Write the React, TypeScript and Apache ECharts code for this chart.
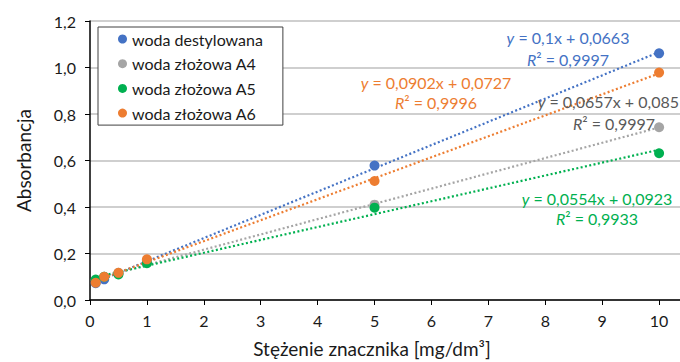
import React, { useEffect, useRef } from "react";
import * as echarts from "echarts";

// Tracer concentration [mg/dm3] and measured absorbance per water sample
const concentrations = [0.1, 0.25, 0.5, 1, 5, 10];
const seriesNames = ["woda destylowana", "woda złożowa A4", "woda złożowa A5", "woda złożowa A6"];
const distilled = [0.072, 0.089, 0.115, 0.168, 0.578, 1.061];
const waterA4 = [0.085, 0.1, 0.117, 0.16, 0.41, 0.743];
const waterA5 = [0.088, 0.1, 0.11, 0.158, 0.397, 0.631];
const waterA6 = [0.074, 0.1, 0.117, 0.175, 0.512, 0.978];

// Linear trend lines (slope, intercept, R²) in the same order as the series
const trendSlopes = [0.1, 0.0657, 0.0554, 0.0902];
const trendIntercepts = [0.0663, 0.085, 0.0923, 0.0727];
const trendR2 = ["0,9997", "0,9997", "0,9933", "0,9996"];

const yTicks = [0, 0.2, 0.4, 0.6, 0.8, 1.0, 1.2];

const COLORS = ["#4472C4", "#A5A5A5", "#00B050", "#ED7D31"];
const LABEL_COLORS = ["#4472C4", "#595959", "#00B050", "#ED7D31"];
const FONT = "Lato, 'Open Sans', sans-serif";

// Equation label placement (anchor of each two-line block, in pixels)
const LABEL_POS = [
  { x: 568, y1: 37, y2: 59, align: "center" },
  { x: 679, y1: 101, y2: 123, align: "right", x2: 614 },
  { x: 597, y1: 198, y2: 218, align: "center" },
  { x: 436, y1: 82, y2: 102, align: "center" },
];

const comma = (v: number) => String(v).replace(".", ",");

export default function App() {
  const ref = useRef<HTMLDivElement>(null);

  useEffect(() => {
    if (!ref.current) return;
    const chart = echarts.init(ref.current, undefined, { renderer: "svg" });
    const values = [distilled, waterA4, waterA5, waterA6];
    const xFirst = concentrations[0];
    const xLast = concentrations[concentrations.length - 1];

    const scatter = values.map((vals, i) => ({
      name: seriesNames[i],
      type: "scatter",
      data: concentrations.map((c, j) => [c, vals[j]]),
      symbol: "circle",
      symbolSize: 10,
      itemStyle: { color: COLORS[i], opacity: 1 },
      z: 3,
    }));

    const trends = trendSlopes.map((a, i) => ({
      name: "trend " + i,
      type: "line",
      data: [
        [xFirst, a * xFirst + trendIntercepts[i]],
        [xLast, a * xLast + trendIntercepts[i]],
      ],
      symbol: "none",
      lineStyle: { color: COLORS[i], width: 2.2, type: [2, 2.4] },
      z: 2,
      silent: true,
    }));

    const labelGraphics: any[] = [];
    trendSlopes.forEach((a, i) => {
      const p = LABEL_POS[i];
      const rich = {
        i: { fontStyle: "italic", fontFamily: FONT, fontSize: 16, fill: LABEL_COLORS[i] },
      };
      labelGraphics.push({
        type: "text",
        x: p.x,
        y: p.y1,
        style: {
          text: `{i|y} = ${comma(a)}x + ${comma(trendIntercepts[i])}`,
          rich,
          fontFamily: FONT,
          fontSize: 16,
          fill: LABEL_COLORS[i],
          textAlign: p.align,
          textVerticalAlign: "middle",
        },
        z: 10,
      });
      labelGraphics.push({
        type: "text",
        x: p.x2 ?? p.x,
        y: p.y2,
        style: {
          text: `{i|R}² = ${trendR2[i]}`,
          rich,
          fontFamily: FONT,
          fontSize: 16,
          fill: LABEL_COLORS[i],
          textAlign: "center",
          textVerticalAlign: "middle",
        },
        z: 10,
      });
    });

    chart.setOption({
      animation: false,
      textStyle: { fontFamily: FONT },
      grid: {
        left: 90,
        top: 21,
        bottom: 62,
        right: -36,
        containLabel: false,
        outerBoundsMode: "none",
      },
      legend: {
        data: seriesNames,
        orient: "vertical",
        left: 98,
        top: 27,
        icon: "circle",
        itemWidth: 9,
        itemHeight: 9,
        itemGap: 8.7,
        padding: [4, 20, 4, 20],
        borderColor: "#404040",
        borderWidth: 1,
        backgroundColor: "#ffffff",
        textStyle: { fontSize: 16, color: "#1a1a1a", lineHeight: 16, fontFamily: FONT },
        z: 5,
      },
      xAxis: {
        type: "value",
        min: 0,
        max: 11,
        interval: 1,
        axisLine: { show: true, lineStyle: { color: "#000", width: 1.5 } },
        axisTick: { show: true, length: 5, lineStyle: { color: "#000" } },
        axisLabel: {
          fontSize: 16,
          color: "#1a1a1a",
          margin: 12,
          fontFamily: FONT,
          formatter: (v: number) => (v > 10 ? "" : String(v)),
        },
        splitLine: { show: false },
      },
      yAxis: {
        type: "value",
        min: yTicks[0],
        max: yTicks[yTicks.length - 1],
        interval: 0.2,
        name: "Absorbancja",
        nameLocation: "middle",
        nameGap: 57,
        nameTextStyle: { fontSize: 19, color: "#1a1a1a", fontFamily: FONT },
        axisLine: { show: true, lineStyle: { color: "#000", width: 1.5 } },
        axisTick: { show: true, length: 5, lineStyle: { color: "#000" } },
        axisLabel: {
          fontSize: 16,
          color: "#1a1a1a",
          margin: 14,
          fontFamily: FONT,
          formatter: (v: number) => v.toFixed(1).replace(".", ","),
        },
        splitLine: { show: true, lineStyle: { color: "#BFBFBF", width: 1.5 } },
      },
      graphic: [
        ...labelGraphics,
        {
          type: "text",
          x: 372,
          y: 348,
          style: {
            text: "Stężenie znacznika [mg/dm³]",
            fontFamily: FONT,
            fontSize: 19,
            fill: "#1a1a1a",
            textAlign: "center",
            textVerticalAlign: "middle",
          },
        },
      ],
      series: [...trends, ...scatter],
    });

    return () => chart.dispose();
  }, []);

  return (
    <div
      ref={ref}
      style={{ position: "fixed", left: 0, top: 0, width: 680, height: 362, background: "#fff" }}
    />
  );
}
